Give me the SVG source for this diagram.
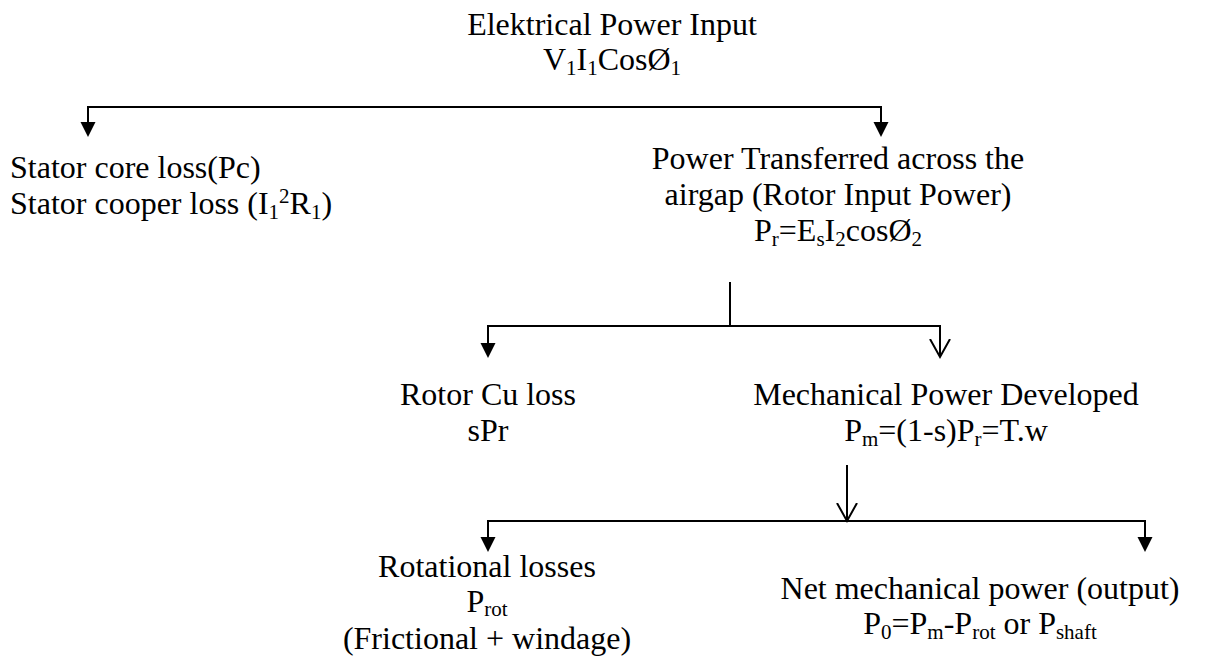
<svg xmlns="http://www.w3.org/2000/svg" width="1224" height="656" viewBox="0 0 1224 656" font-family="'Liberation Serif', 'Times New Roman', serif">
<style>
text{font-family:'Liberation Serif','Times New Roman',serif;font-size:32px;fill:#000}
.c{text-anchor:middle}
.s{font-size:21px;baseline-shift:-5px}
.s4{font-size:21px;baseline-shift:-4px}
.p{font-size:21px;baseline-shift:11px}
.ln{fill:none;stroke:#000;stroke-width:2}
</style>
<defs>
<marker id="fa" markerUnits="userSpaceOnUse" markerWidth="16" markerHeight="16" refX="0" refY="7.5" orient="auto-start-reverse" viewBox="0 0 16 16"><path d="M0,0 L15,7.5 L0,15 z" fill="#000"/></marker>
<marker id="oa" markerUnits="userSpaceOnUse" markerWidth="22" markerHeight="24" refX="18" refY="11" orient="auto" viewBox="0 0 22 24"><path d="M0,1 L18,11 L0,21" fill="none" stroke="#000" stroke-width="2"/></marker>
</defs>
<g id="connectors">
<path class="ln" d="M88,122 V107 H881 V122" marker-start="url(#fa)" marker-end="url(#fa)"/>
<path class="ln" d="M730,282 V326"/>
<path class="ln" d="M488,343 V326 H940 V357" marker-start="url(#fa)" marker-end="url(#oa)"/>
<path class="ln" d="M847,465 V521" marker-end="url(#oa)"/>
<path class="ln" d="M488,537 V521 H1145 V537" marker-start="url(#fa)" marker-end="url(#fa)"/>
</g>
<g id="input">
<text class="c" x="612" y="35">Elektrical Power Input</text>
<text class="c" x="612" y="70">V<tspan class="s">1</tspan>I<tspan class="s">1</tspan>CosØ<tspan class="s">1</tspan></text>
</g>
<g id="stator">
<text x="10" y="178">Stator core loss(Pc)</text>
<text x="10" y="214">Stator cooper loss (I<tspan class="s">1</tspan><tspan class="p">2</tspan>R<tspan class="s">1</tspan>)</text>
</g>
<g id="airgap">
<text class="c" x="838" y="169">Power Transferred across the</text>
<text class="c" x="838" y="205">airgap (Rotor Input Power)</text>
<text class="c" x="838" y="241">P<tspan class="s">r</tspan>=E<tspan class="s">s</tspan>I<tspan class="s">2</tspan>cosØ<tspan class="s">2</tspan></text>
</g>
<g id="rotorcu">
<text class="c" x="488" y="405">Rotor Cu loss</text>
<text class="c" x="488" y="441">sPr</text>
</g>
<g id="mech">
<text class="c" x="946" y="405">Mechanical Power Developed</text>
<text class="c" x="946" y="441">P<tspan class="s">m</tspan>=(1-s)P<tspan class="s">r</tspan>=T.w</text>
</g>
<g id="rot">
<text class="c" x="487" y="577">Rotational losses</text>
<text class="c" x="487" y="612">P<tspan class="s4">rot</tspan></text>
<text class="c" x="487" y="649">(Frictional + windage)</text>
</g>
<g id="net">
<text class="c" x="980" y="599">Net mechanical power (output)</text>
<text class="c" x="980" y="634">P<tspan class="s">0</tspan>=P<tspan class="s">m</tspan>-P<tspan class="s">rot</tspan> or P<tspan class="s">shaft</tspan></text>
</g>
</svg>
